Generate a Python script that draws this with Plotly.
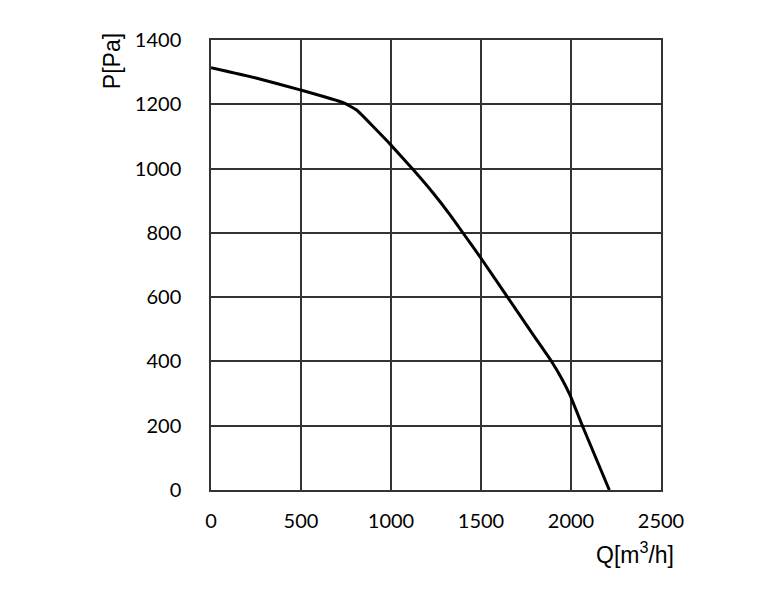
"""Fan curve P vs Q."""
import plotly.graph_objects as go

# airflow Q [m3/h] and static pressure P [Pa]
q_values = [0, 250, 500, 735, 809, 902, 1000, 1124, 1235, 1328, 1402, 1500,
            1652, 1791, 1893, 1948, 1994, 2069, 2213]
p_values = [1314, 1282, 1244, 1205, 1182, 1130, 1073, 996, 923, 856, 798, 721,
            596, 482, 399, 347, 296, 192, 0]

x_ticks = [0, 500, 1000, 1500, 2000, 2500]
y_ticks = [0, 200, 400, 600, 800, 1000, 1200, 1400]

FONT = "Lato, 'Open Sans', sans-serif"
TITLE_FONT = "'Liberation Sans', Arial, sans-serif"
GRID = "#333333"

fig = go.Figure()
fig.add_trace(
    go.Scatter(
        x=q_values,
        y=p_values,
        mode="lines",
        line=dict(color="black", width=3, shape="spline", smoothing=0.4),
        showlegend=False,
        hoverinfo="skip",
    )
)

# page body has an 8px margin, so shift the plot area up/left to compensate
fig.update_layout(
    width=765,
    height=596,
    margin=dict(l=203, r=112, t=32, b=114),
    paper_bgcolor="white",
    plot_bgcolor="white",
    font=dict(family=FONT, size=20, color="black"),
    xaxis=dict(
        range=[0, 2500],
        tickvals=x_ticks,
        showgrid=True,
        gridcolor=GRID,
        gridwidth=1.5,
        showline=True,
        linecolor=GRID,
        linewidth=1.5,
        mirror=True,
        zeroline=False,
        ticks="",
        ticklabelstandoff=12,
    ),
    yaxis=dict(
        range=[0, 1400],
        tickvals=y_ticks,
        showgrid=True,
        gridcolor=GRID,
        gridwidth=1.5,
        showline=True,
        linecolor=GRID,
        linewidth=1.5,
        mirror=True,
        zeroline=False,
        ticks="",
        ticklabelstandoff=24,
    ),
    annotations=[
        dict(
            text="P[Pa]",
            xref="paper",
            yref="paper",
            x=-0.221,
            y=0.952,
            xanchor="center",
            yanchor="middle",
            textangle=-90,
            showarrow=False,
            font=dict(family=TITLE_FONT, size=23, color="black"),
        ),
        dict(
            text="Q[m<sup>3</sup>/h]",
            xref="paper",
            yref="paper",
            x=1.033,
            y=-0.14,
            xanchor="right",
            yanchor="middle",
            showarrow=False,
            font=dict(family=TITLE_FONT, size=23, color="black"),
        ),
    ],
)

fig.write_html("out.html")
